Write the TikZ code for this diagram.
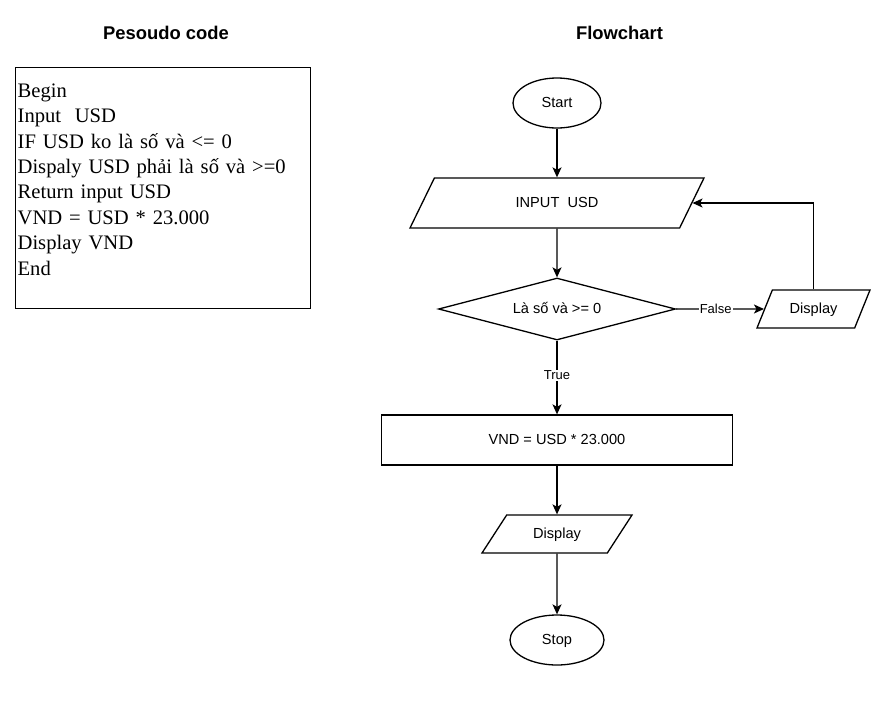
\documentclass[tikz,border=0pt]{standalone}
\usepackage{fontspec}
\setmainfont{Liberation Sans}
\newfontfamily\codefont{Liberation Serif}
\usetikzlibrary{shapes.geometric,arrows.meta}

\tikzset{
  title/.style={font=\bfseries\fontsize{18.4}{22}\selectfont},
  flow/.style={draw, line width=1.3pt, font=\fontsize{14.6}{17}\selectfont, text height=11pt, text depth=3pt},
  terminal/.style={flow, ellipse, inner sep=0pt},
  io/.style={flow, trapezium, trapezium stretches body, inner xsep=2pt},
  decision/.style={flow, diamond, shape aspect=3.8, inner sep=0pt, minimum width=237pt, minimum height=62pt},
  process/.style={flow, rectangle, minimum width=351pt, minimum height=50pt},
  edgelabel/.style={font=\fontsize{13}{15}\selectfont, fill=white, inner sep=1pt}
}

\begin{document}
\begin{tikzpicture}[x=1pt, y=-1pt, line width=1.3pt, >={Stealth[length=10pt, width=9pt, inset=2.5pt]}]
    \useasboundingbox (0,0) rectangle (887,716);

    % Titles
    \node[title] (codetitle) at (166,33) {Pesoudo code};
    \node[title] (flowtitle) at (619.5,33) {Flowchart};

    % Pseudo code box
    \node[draw, anchor=north west, inner sep=0pt, minimum width=295pt, minimum height=241pt] (codebox) at (15,67) {};
    \node[anchor=north west, inner sep=0pt, text width=290pt, align=left, font=\codefont\fontsize{20.6}{25.4}\selectfont] (codetext) at (17,83) {Begin\\
      Input~~USD\\
      IF USD ko là số và <= 0\\
      Dispaly USD phải là số và >=0\\
      Return input USD\\
      VND = USD * 23.000\\
      Display VND\\
      End};

    % Flowchart nodes
    \node[terminal, minimum width=88pt, minimum height=50pt] (start) at (557,103) {Start};
    \node[io, trapezium left angle=64, trapezium right angle=116, inner ysep=18pt, minimum width=294pt] (input) at (557,203) {INPUT~~USD};
    \node[decision] (check) at (557,309) {Là số và >= 0};
    \node[io, trapezium left angle=68, trapezium right angle=112, inner ysep=12pt, minimum width=113pt] (warn) at (813.5,309) {Display};
    \node[process] (calc) at (557,440) {VND = USD * 23.000};
    \node[io, trapezium left angle=57, trapezium right angle=123, inner ysep=12pt, minimum width=150pt] (show) at (557,534) {Display};
    \node[terminal, minimum width=94pt, minimum height=50pt] (stop) at (557,640) {Stop};

    % Connectors
    \draw[->] (start) -- (input);
    \draw[->] (input) -- (check);
    \draw[->] (check.east) -- node[edgelabel, pos=0.45] {False} (warn.west);
    \draw[->] (warn.north) |- (input.east);
    \draw[->] (check.south) -- node[edgelabel, pos=0.47] {True} (calc.north);
    \draw[->] (calc) -- (show);
    \draw[->] (show) -- (stop);
\end{tikzpicture}
\end{document}
